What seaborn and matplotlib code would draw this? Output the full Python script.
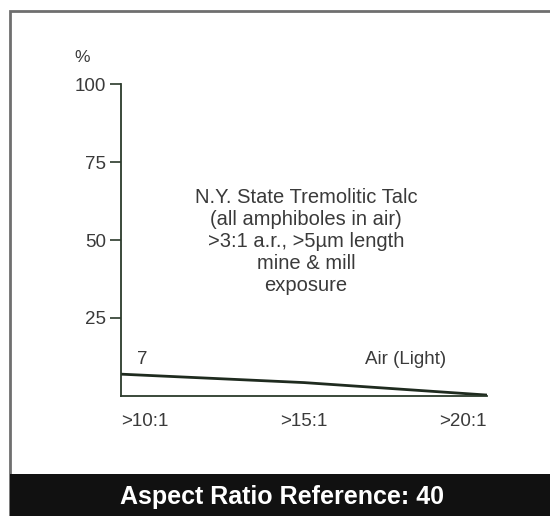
import matplotlib
matplotlib.use("Agg")
import matplotlib.pyplot as plt
from matplotlib.patches import Rectangle
import seaborn as sns
import pandas as pd

# ---------------------------------------------
# Данные
# ---------------------------------------------
ratio_labels = [">10:1", ">15:1", ">20:1"]
air_light = [7, 4.3, 0.3]
y_ticks = [25, 50, 75, 100]
note_lines = ["N.Y. State Tremolitic Talc", "(all amphiboles in air)",
              ">3:1 a.r., >5µm length", "mine & mill", "exposure"]
series_name = "Air (Light)"
band_title = "Aspect Ratio Reference: 40"


def main():
    df = pd.DataFrame({"pos": range(len(ratio_labels)), "pct": air_light})

    sns.set_theme(style="white")
    plt.rcParams["font.family"] = ["Liberation Sans", "DejaVu Sans"]
    text_col = "#3a3a3a"
    axis_col = "#2b3a2b"
    fs = 13.5

    fig = plt.figure(figsize=(5.5, 5.16), dpi=100)
    ax = fig.add_axes([121 / 550, 1 - 396 / 516, 366 / 550, 312 / 516])

    sns.lineplot(data=df, x="pos", y="pct", ax=ax, color="#1f2b1f", linewidth=2.0)

    ax.set_xlim(0, len(ratio_labels) - 1)
    ax.set_ylim(0, 100)
    for side in ["top", "right"]:
        ax.spines[side].set_visible(False)
    for side in ["left", "bottom"]:
        ax.spines[side].set_color(axis_col)
        ax.spines[side].set_linewidth(1.3)

    ax.set_yticks(y_ticks)
    ax.set_yticklabels([str(t) for t in y_ticks], fontsize=fs, color=text_col)
    ax.tick_params(axis="y", direction="out", length=8, width=1.2, color=axis_col,
                   left=True, pad=3)
    ax.set_xticks(range(len(ratio_labels)))
    ax.set_xticklabels(ratio_labels, fontsize=fs, color=text_col)
    ax.tick_params(axis="x", length=0, pad=12)
    for lbl, ha in zip(ax.get_xticklabels(), ["left", "center", "right"]):
        lbl.set_ha(ha)
    ax.set_xlabel("")
    ax.set_ylabel("")

    # подписи
    ax.text(-0.105, 106, "%", transform=ax.get_yaxis_transform(), ha="center",
            va="bottom", fontsize=fs - 1, color=text_col)
    ax.text(0.505, 0.668, "\n".join(note_lines), transform=ax.transAxes,
            ha="center", va="top", fontsize=14.5, color=text_col, linespacing=1.21)
    ax.text(0.115, air_light[0] + 2, str(air_light[0]), fontsize=fs, color=text_col,
            ha="center", va="bottom")
    ax.text(1.557, air_light[0] + 2, series_name, fontsize=fs, color=text_col,
            ha="center", va="bottom")

    # рамка и чёрная плашка снизу
    fig.patches.append(Rectangle((10 / 550, 0), 1.0, 1 - 11 / 516,
                                 transform=fig.transFigure, fill=False,
                                 edgecolor="#6f6f6f", linewidth=2))
    fig.patches.append(Rectangle((10 / 550, 0), 1.0, 42 / 516,
                                 transform=fig.transFigure, facecolor="#111111",
                                 edgecolor="none"))
    fig.text(282 / 550, 19 / 516, band_title, ha="center", va="center",
             fontsize=18, fontweight="bold", color="white")

    fig.savefig("out.png", dpi=100)


if __name__ == "__main__":
    main()
